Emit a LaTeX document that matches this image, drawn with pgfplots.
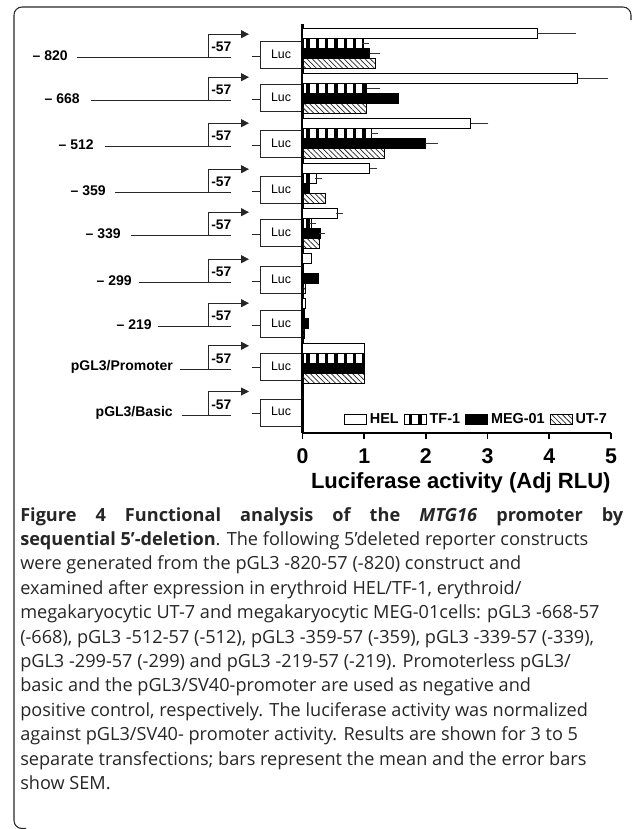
\documentclass[border=0pt]{standalone}
\usepackage{pgfplots}
\pgfplotsset{compat=1.18}
\usepackage{pgfplotstable}
\usepackage{fontspec}
\setmainfont{Liberation Sans}
\newfontfamily\capfont{Open Sans}
\usetikzlibrary{patterns.meta,arrows.meta}

% group index g: 0=-820, 1=-668, 2=-512, 3=-359, 4=-339, 5=-299, 6=-219, 7=pGL3/Promoter, 8=pGL3/Basic
\pgfplotstableread{
g v
0 3.80
1 4.46
2 2.73
3 1.09
4 0.57
5 0.14
6 0.04
7 1.00
8 0.02
}\helT
\pgfplotstableread{
g v
0 0.99
1 1.04
2 1.11
3 0.22
4 0.15
5 0.02
6 0.03
7 1.00
8 0.02
}\tfT
\pgfplotstableread{
g v
0 1.09
1 1.55
2 1.99
3 0.12
4 0.29
5 0.26
6 0.09
7 1.00
8 0.02
}\megT
\pgfplotstableread{
g v
0 1.19
1 1.03
2 1.33
3 0.38
4 0.27
5 0.05
6 0.03
7 1.00
8 0.02
}\utT
% SEM (only where visible)
\pgfplotstableread{
g v e
0 3.80 0.58
1 4.46 0.44
2 2.73 0.23
3 1.09 0.07
4 0.57 0.03
}\helE
\pgfplotstableread{
g v e
0 0.99 0.03
1 1.04 0.17
2 1.11 0.06
3 0.22 0.04
4 0.15 0.01
}\tfE
\pgfplotstableread{
g v e
0 1.09 0.12
2 1.99 0.16
4 0.29 0.03
}\megE

\newcommand{\construct}[4]{%
  \draw[line width=0.75pt, black!85] (#3,#1) -- (231,#1);
  \draw[line width=0.75pt, black!85, -{Triangle[length=6pt,width=6pt]}] (208,#1) -- (208,#1-23.5) -- (249,#1-23.5);
  \node[anchor=east, inner sep=0pt, font=\bfseries\fontsize{10.5}{12}\selectfont] at (#2,#1-2.5) {#4};
  \node[anchor=west, inner sep=0pt, font=\bfseries\fontsize{10.4}{12}\selectfont] at (211,#1-10.5) {-57};
  \draw[line width=0.75pt, black!85, fill=white] (260,#1-16) rectangle (302,#1+11);
  \node[inner sep=0pt, font=\fontsize{9.3}{11}\selectfont] at (281,#1-3.5) {Luc};
  \draw[line width=0.75pt, black!85] (252,#1-1.5) -- (260,#1-1.5);
}

\begin{document}
\begin{tikzpicture}
\begin{scope}[x=0.75pt,y=-0.75pt]
  \path[use as bounding box] (0,0) rectangle (633,829);
  \draw[line width=0.8pt, black!85, rounded corners=6pt] (26,828.5) -- (14,828.5) -- (14,7) -- (631,7) -- (631,20);
  \construct{57.7}{68}{77}{– 820}
  \construct{100.7}{80}{90.7}{– 668}
  \construct{146.7}{94}{105}{– 512}
  \construct{192.7}{106}{115}{– 359}
  \construct{235.7}{121}{131}{– 339}
  \construct{282.7}{132}{139}{– 299}
  \construct{326.7}{152}{158}{– 219}
  \construct{369.3}{173}{180}{pGL3/Promoter}
  \construct{415}{173}{181.7}{pGL3/Basic}
  \node[anchor=base west, inner sep=0pt, text=black!85] at (20,521) {\parbox[t]{452.25pt}{\capfont\fontsize{13.6}{18.3}\selectfont
\makebox[452.25pt][s]{\bfseries Figure 4 Functional analysis of the \textit{MTG16} promoter by}\\
\textbf{sequential 5’-deletion}. The following 5’deleted reporter constructs\\
were generated from the pGL3 -820-57 (-820) construct and\\
examined after expression in erythroid HEL/TF-1, erythroid/\\
megakaryocytic UT-7 and megakaryocytic MEG-01cells: pGL3 -668-57\\
(-668), pGL3 -512-57 (-512), pGL3 -359-57 (-359), pGL3 -339-57 (-339),\\
pGL3 -299-57 (-299) and pGL3 -219-57 (-219). Promoterless pGL3/\\
basic and the pGL3/SV40-promoter are used as negative and\\
positive control, respectively. The luciferase activity was normalized\\
against pGL3/SV40- promoter activity. Results are shown for 3 to 5\\
separate transfections; bars represent the mean and the error bars\\
show SEM.}};
\end{scope}
\begin{axis}[
  at={(226.875pt,-324.525pt)}, anchor=south west,
  scale only axis, width=231.4pt, height=306.5pt,
  xmin=0, xmax=5, ymin=-8.54, ymax=0.54,
  axis x line*=bottom, axis y line*=left,
  axis line style={line width=1.6pt, black},
  xtick={0,1,2,3,4,5}, ytick=\empty,
  xtick align=outside, major tick length=4.5pt,
  x tick style={line width=1.3pt, black},
  tick label style={font=\bfseries\fontsize{16}{16}\selectfont},
  xticklabel style={yshift=-4pt},
  /pgf/number format/assume math mode=true,
  xlabel={Luciferase activity (Adj RLU)},
  xlabel style={font=\bfseries\fontsize{16.5}{16.5}\selectfont, yshift=0pt, xshift=3pt},
  bar width=7.5pt,
  legend columns=4,
  legend style={draw=none, fill=none, at={(1,0)}, anchor=south east, yshift=2.5pt,
    font=\bfseries\fontsize{10.8}{12}\selectfont, inner sep=1pt,
    /tikz/every even column/.append style={column sep=2pt}},
  legend image code/.code={\draw[#1] (0pt,-3.75pt) rectangle (16.5pt,3.75pt);},
  clip=false,
]
\addplot[xbar, bar shift=0pt, fill=white, draw=black, line width=0.7pt]
  table[x=v, y expr=-\thisrow{g}+0.3333]{\helT};
\addlegendentry{HEL}
\addplot[xbar, bar shift=0pt, draw=black, line width=0.7pt,
  pattern={Lines[angle=90, distance=7pt, line width=2.3pt]}, pattern color=black]
  table[x=v, y expr=-\thisrow{g}+0.1111]{\tfT};
\addlegendentry{TF-1}
\addplot[xbar, bar shift=0pt, fill=black, draw=black, line width=0.7pt]
  table[x=v, y expr=-\thisrow{g}-0.1111]{\megT};
\addlegendentry{MEG-01}
\addplot[xbar, bar shift=0pt, draw=black, line width=0.7pt,
  pattern={Lines[angle=-45, distance=2.8pt, line width=0.55pt]}, pattern color=black!85]
  table[x=v, y expr=-\thisrow{g}-0.3333]{\utT};
\addlegendentry{UT-7}
\pgfplotsset{errst/.style={draw=none, no markers, forget plot,
  error bars/.cd, x dir=plus, x explicit,
  error bar style={draw=black!80, line width=0.8pt},
  error mark options={draw=black!80, line width=0.8pt, mark size=2.4pt}}}
\addplot[errst] table[x=v, y expr=-\thisrow{g}+0.3333, x error=e]{\helE};
\addplot[errst] table[x=v, y expr=-\thisrow{g}+0.1111, x error=e]{\tfE};
\addplot[errst] table[x=v, y expr=-\thisrow{g}-0.1111, x error=e]{\megE};
\end{axis}
\end{tikzpicture}
\end{document}
